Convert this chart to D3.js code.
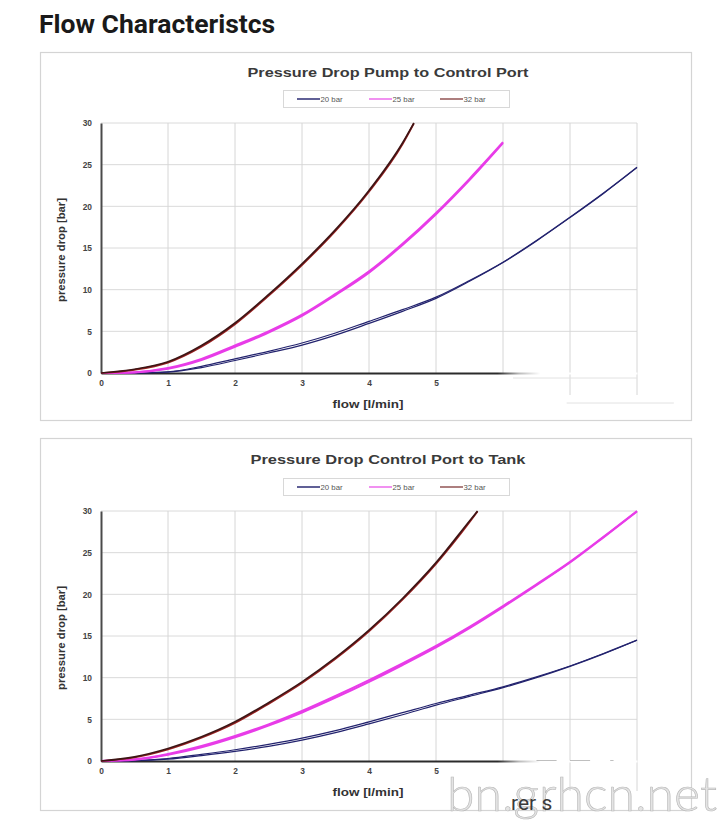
<!DOCTYPE html>
<html>
<head>
<meta charset="utf-8">
<script src="https://cdn.jsdelivr.net/npm/d3@7"></script>
<style>
  html,body{margin:0;padding:0;background:#fff;}
  svg{display:block;}
</style>
</head>
<body>
<svg id="chart" width="726" height="833"></svg>
<script>
// ---------------- DATA ----------------
const pageTitle = "Flow Characteristcs";
const chartTitles = ["Pressure Drop Pump to Control Port", "Pressure Drop Control Port to Tank"];
const seriesNames = ["20 bar", "25 bar", "32 bar"];
const xTickLabels = [0, 1, 2, 3, 4, 5];
const yTickLabels = [0, 5, 10, 15, 20, 25, 30];
const xGridValues = [1, 2, 3, 4, 5, 6, 7, 8];
const xLabel = "flow [l/min]";
const yLabel = "pressure drop [bar]";

const flowFull = [0, 0.5, 1, 1.5, 2, 2.5, 3, 3.5, 4, 4.5, 5, 5.5, 6, 6.5, 7, 7.5, 8];

// Chart 1: Pump to Control Port
const pumpFlow20 = flowFull;
const pumpUp20   = [0, 0.02, 0.15, 0.8, 1.7, 2.6, 3.6, 4.8, 6.2, 7.6, 9.1, 11.1, 13.3, 15.9, 18.7, 21.6, 24.7];
const pumpDown20 = [0, 0.01, 0.1, 0.65, 1.5, 2.4, 3.35, 4.55, 5.95, 7.4, 8.95, 11.0, 13.25, 15.85, 18.65, 21.55, 24.65];
const pumpFlow25 = [0, 0.5, 1, 1.5, 2, 2.5, 3, 3.5, 4, 4.5, 5, 5.5, 6];
const pumpUp25   = [0, 0.1, 0.6, 1.7, 3.3, 5.0, 7.0, 9.5, 12.2, 15.5, 19.2, 23.3, 27.7];
const pumpDown25 = [0, 0.07, 0.5, 1.55, 3.15, 4.85, 6.85, 9.35, 12.05, 15.35, 19.05, 23.15, 27.6];
const pumpFlow32 = [0, 0.5, 1, 1.5, 2, 2.5, 3, 3.5, 4, 4.5, 4.67];
const pumpUp32   = [0, 0.45, 1.35, 3.3, 6.0, 9.4, 13.1, 17.2, 21.9, 27.6, 30];
const pumpDown32 = [0, 0.38, 1.25, 3.15, 5.85, 9.25, 12.95, 17.05, 21.75, 27.45, 29.95];

// Chart 2: Control Port to Tank
const tankFlow20 = flowFull;
const tankUp20   = [0, 0.05, 0.3, 0.8, 1.35, 2.0, 2.75, 3.65, 4.7, 5.8, 6.9, 7.9, 8.9, 10.1, 11.4, 12.9, 14.5];
const tankDown20 = [0, 0.03, 0.22, 0.65, 1.15, 1.75, 2.5, 3.4, 4.45, 5.55, 6.7, 7.75, 8.8, 10.0, 11.35, 12.85, 14.5];
const tankFlow25 = flowFull;
const tankUp25   = [0, 0.2, 0.85, 1.8, 3.0, 4.4, 6.0, 7.8, 9.7, 11.7, 13.8, 16.1, 18.6, 21.2, 23.9, 26.9, 30.0];
const tankDown25 = [0, 0.16, 0.75, 1.65, 2.85, 4.25, 5.82, 7.6, 9.5, 11.52, 13.63, 15.95, 18.47, 21.1, 23.82, 26.84, 29.95];
const tankFlow32 = [0, 0.5, 1, 1.5, 2, 2.5, 3, 3.5, 4, 4.5, 5, 5.5, 5.62];
const tankUp32   = [0, 0.5, 1.5, 2.9, 4.7, 7.0, 9.5, 12.4, 15.7, 19.5, 23.8, 28.8, 30];
const tankDown32 = [0, 0.42, 1.38, 2.78, 4.55, 6.85, 9.35, 12.25, 15.55, 19.35, 23.65, 28.65, 29.95];

// ---------------- STYLE ----------------
const seriesColors = ["#23236e", "#e83ce8", "#6e1b1b"];

const charts = [
  { title: chartTitles[0], top: 52, height: 368, plotTop: 123, plotBottom: 373, titleY: 77, legendY: 90, titleW: 281,
    series: [
      { flow: pumpFlow20, a: pumpUp20, b: pumpDown20 },
      { flow: pumpFlow25, a: pumpUp25, b: pumpDown25 },
      { flow: pumpFlow32, a: pumpUp32, b: pumpDown32 } ] },
  { title: chartTitles[1], top: 438, height: 372, plotTop: 511, plotBottom: 761, titleY: 464, legendY: 478, titleW: 275,
    series: [
      { flow: tankFlow20, a: tankUp20, b: tankDown20 },
      { flow: tankFlow25, a: tankUp25, b: tankDown25 },
      { flow: tankFlow32, a: tankUp32, b: tankDown32 } ] }
];

const svg = d3.select("#chart");
const FONT = "'Liberation Sans', Arial, sans-serif";

svg.append("text")
  .attr("x", 39).attr("y", 33)
  .attr("font-family", "Roboto, 'Open Sans', sans-serif")
  .attr("font-weight", 700)
  .attr("font-size", 26.5)
  .attr("fill", "#1a1a1a")
  .text(pageTitle);

const defs = svg.append("defs");
const grad = defs.append("linearGradient").attr("id", "axisFade")
  .attr("gradientUnits", "userSpaceOnUse").attr("x1", 101).attr("x2", 637).attr("y1", 0).attr("y2", 0);
grad.append("stop").attr("offset", 0).attr("stop-color", "#2b2b2b");
grad.append("stop").attr("offset", 0.74).attr("stop-color", "#2b2b2b");
grad.append("stop").attr("offset", 0.78).attr("stop-color", "#bbbbbb");
grad.append("stop").attr("offset", 0.82).attr("stop-color", "#ffffff");
grad.append("stop").attr("offset", 1).attr("stop-color", "#ffffff");

charts.forEach((c, ci) => {
  const g = svg.append("g");
  // panel
  g.append("rect").attr("x", 40.5).attr("y", c.top + 0.5).attr("width", 651).attr("height", c.height)
    .attr("fill", "#fff").attr("stroke", "#d4d4d4").attr("stroke-width", 1.2);

  const x = d3.scaleLinear().domain([0, 8]).range([101, 637]);
  const y = d3.scaleLinear().domain([0, 30]).range([c.plotBottom, c.plotTop]);

  // title
  g.append("text").attr("x", 388).attr("y", c.titleY).attr("text-anchor", "middle")
    .attr("font-family", FONT).attr("font-weight", 700).attr("font-size", 13.5).attr("fill", "#3a3a3a")
    .attr("textLength", c.titleW).attr("lengthAdjust", "spacingAndGlyphs")
    .text(c.title);

  // legend
  const ly = c.legendY;
  g.append("rect").attr("x", 283.5).attr("y", ly + 0.5).attr("width", 226).attr("height", 17)
    .attr("fill", "#fff").attr("stroke", "#d8d8d8");
  const legX = [297, 369, 440];
  seriesNames.forEach((n, i) => {
    g.append("line").attr("x1", legX[i]).attr("x2", legX[i] + 23).attr("y1", ly + 9).attr("y2", ly + 9)
      .attr("stroke", seriesColors[i]).attr("stroke-width", 1.6).attr("opacity", i === 0 ? 0.9 : 0.7);
    g.append("text").attr("x", legX[i] + 23.5).attr("y", ly + 11.8)
      .attr("font-family", FONT).attr("font-size", 7.8).attr("fill", "#555").text(n);
  });

  // grid
  const grid = g.append("g");
  grid.selectAll(".hg").data(yTickLabels.filter(v => v > 0)).join("line")
    .attr("x1", x(0)).attr("x2", x(8)).attr("y1", d => y(d)).attr("y2", d => y(d))
    .attr("stroke", "#dadada").attr("stroke-width", 1);
  grid.selectAll(".vg").data(xGridValues).join("line")
    .attr("x1", d => x(d)).attr("x2", d => x(d))
    .attr("y1", y(30)).attr("y2", d => d >= 7 ? y(0) + (ci === 0 ? 22 : 30) : y(0))
    .attr("stroke", "#d6d6d6").attr("stroke-width", 1);

  // leftover artefacts below the erased axis part
  if (ci === 0) {
    g.append("line").attr("x1", x(6.15)).attr("x2", x(8)).attr("y1", y(0) + 5).attr("y2", y(0) + 5)
      .attr("stroke", "#e2e2e2");
    g.append("line").attr("x1", x(6.95)).attr("x2", x(8.55)).attr("y1", y(0) + 30).attr("y2", y(0) + 30)
      .attr("stroke", "#e2e2e2");
  } else {
    [[6.5, 6.8], [7.0, 7.3], [7.6, 7.65]].forEach(s => {
      g.append("line").attr("x1", x(s[0])).attr("x2", x(s[1])).attr("y1", y(0)).attr("y2", y(0))
        .attr("stroke", "#555").attr("stroke-width", 1.5);
    });
  }

  // axes
  const yAxis = d3.axisLeft(y).tickValues(yTickLabels).tickSize(0).tickPadding(9);
  const ya = g.append("g").attr("transform", `translate(${x(0)},0)`).call(yAxis);
  ya.select(".domain").attr("stroke", "#4a4a4a").attr("stroke-width", 2);
  ya.selectAll("text").attr("font-family", FONT).attr("font-size", 8.4).attr("fill", "#444").attr("font-weight", 700);

  const xAxis = d3.axisBottom(x).tickValues(xTickLabels).tickSize(0).tickPadding(7).tickFormat(d3.format("d"));
  const xa = g.append("g").attr("transform", `translate(0,${y(0)})`).call(xAxis);
  xa.select(".domain").attr("stroke", "url(#axisFade)").attr("stroke-width", 2);
  xa.selectAll("text").attr("font-family", FONT).attr("font-size", 8.4).attr("fill", "#444").attr("font-weight", 700);

  // axis labels
  g.append("text").attr("x", x(4) - 1).attr("y", y(0) + 35).attr("text-anchor", "middle")
    .attr("font-family", FONT).attr("font-weight", 700).attr("font-size", 10.5).attr("fill", "#333")
    .attr("textLength", 71).attr("lengthAdjust", "spacingAndGlyphs").text(xLabel);
  g.append("text")
    .attr("transform", `translate(${65},${(y(0) + y(30)) / 2 + 2}) rotate(-90)`)
    .attr("text-anchor", "middle")
    .attr("font-family", FONT).attr("font-weight", 700).attr("font-size", 10.2).attr("fill", "#333")
    .attr("textLength", 104).attr("lengthAdjust", "spacingAndGlyphs").text(yLabel);

  // curves
  const line = d3.line().x(d => x(d[0])).y(d => y(d[1])).curve(d3.curveMonotoneX);
  const widths = [1.2, 2.0, 1.7];
  c.series.forEach((s, i) => {
    const pa = s.flow.map((f, k) => [f, s.a[k]]);
    const pb = s.flow.map((f, k) => [f, s.b[k]]);
    g.append("path").attr("d", line(pb)).attr("fill", "none")
      .attr("stroke", i === 2 ? "#9a2020" : seriesColors[i]).attr("stroke-width", widths[i]);
    g.append("path").attr("d", line(pa)).attr("fill", "none")
      .attr("stroke", i === 2 ? "#3d1515" : seriesColors[i]).attr("stroke-width", widths[i]);
  });
});

// watermark
svg.append("text").attr("x", 447).attr("y", 811)
  .attr("font-family", "Lato, 'Open Sans', sans-serif").attr("font-weight", 300)
  .attr("font-size", 47).attr("textLength", 270).attr("lengthAdjust", "spacingAndGlyphs")
  .attr("fill", "#e4e4e4").attr("stroke", "#b8b8b8").attr("stroke-width", 0.6)
  .text("bn.grhcn.net");
svg.append("text").attr("x", 511).attr("y", 810)
  .attr("font-family", "Roboto, 'Open Sans', sans-serif")
  .attr("font-size", 21).attr("fill", "#3a3a3a")
  .text("rer s");
</script>
</body>
</html>
